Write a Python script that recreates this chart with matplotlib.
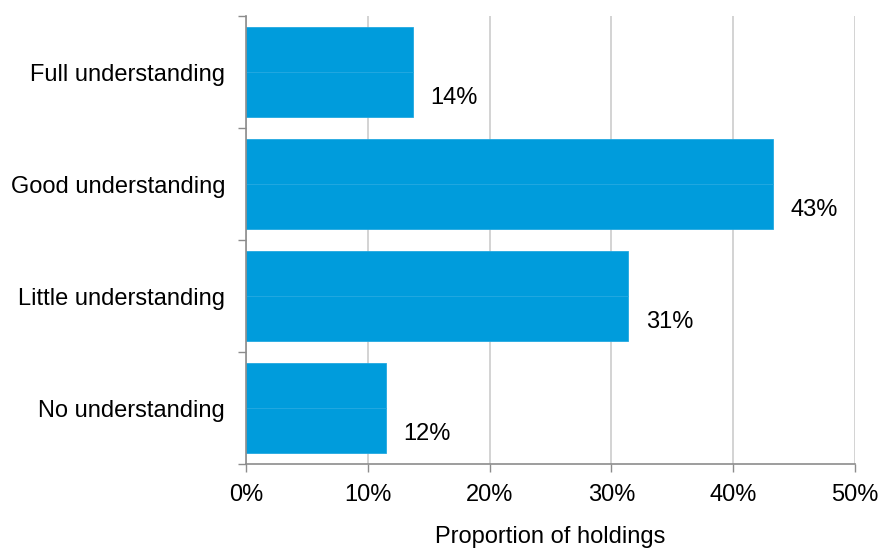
import matplotlib
matplotlib.use("Agg")
import matplotlib.pyplot as plt
import numpy as np

categories = ["Full understanding", "Good understanding", "Little understanding", "No understanding"]
shares = [0.137, 0.433, 0.314, 0.115]
x_ticks = [0.0, 0.1, 0.2, 0.3, 0.4, 0.5]
x_tick_labels = ["0%", "10%", "20%", "30%", "40%", "50%"]

plt.rcParams["font.family"] = ["Liberation Sans", "DejaVu Sans"]

fig = plt.figure(figsize=(8.81, 5.48), dpi=100)
ax = fig.add_axes([246 / 881, 1 - 464 / 548, (855 - 246) / 881, (464 - 16) / 548])

bar_color = "#009CDC"
edge_color = "#22A8E1"
grid_color = "#D0D0D0"
axis_color = "#8C8C8C"
fs = 17

y = np.arange(len(categories))[::-1].astype(float)
half = 0.795 / 2

# each bar is drawn as two stacked halves
ax.barh(y + half / 2, shares, height=half, color=bar_color, edgecolor=edge_color,
        linewidth=0.6, zorder=3)
ax.barh(y - half / 2, shares, height=half, color=bar_color, edgecolor=edge_color,
        linewidth=0.6, zorder=3)

for yi, v in zip(y, shares):
    ax.annotate(f"{round(v * 100):.0f}%", xy=(v, yi - half / 2), xytext=(12.5, -3),
                textcoords="offset points", ha="left", va="center", fontsize=fs,
                color="#000000")

ax.set_xlim(0, 0.5)
ax.set_ylim(-0.5, len(categories) - 0.5)
ax.set_xticks(x_ticks)
ax.set_xticklabels(x_tick_labels, fontsize=fs)
ax.set_yticks(y)
ax.set_yticklabels(categories, fontsize=fs)
ax.set_yticks(np.arange(len(categories) + 1) - 0.5, minor=True)

ax.tick_params(axis="y", which="major", length=0, pad=15)
ax.tick_params(axis="y", which="minor", length=5.5, width=1, color=axis_color, direction="out")
ax.tick_params(axis="x", which="major", length=6, width=1, color=axis_color, pad=8.5)

ax.grid(axis="x", color=grid_color, linewidth=1.3, zorder=0)
ax.set_axisbelow(True)

for side in ["top", "right"]:
    ax.spines[side].set_visible(False)
for side in ["left", "bottom"]:
    ax.spines[side].set_color(axis_color)
    ax.spines[side].set_linewidth(1.2)
    ax.spines[side].set_zorder(4)

ax.set_xlabel("Proportion of holdings", fontsize=fs, labelpad=14.5)

fig.savefig("out.png", dpi=100)
